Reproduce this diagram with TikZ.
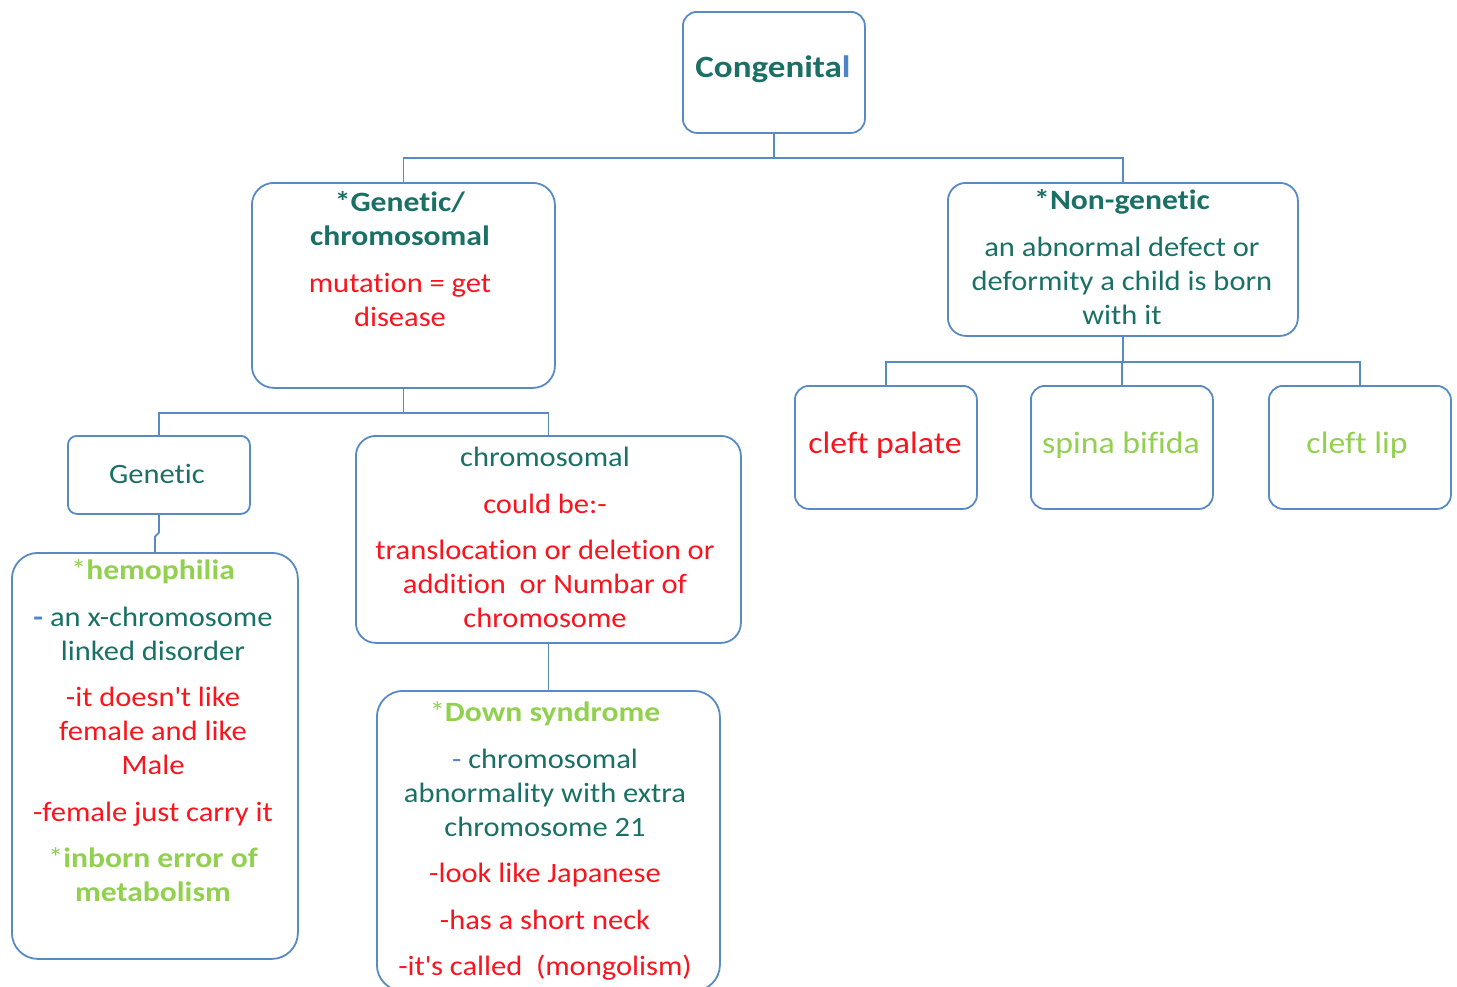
\documentclass[tikz,border=0pt]{standalone}
\usepackage{fontspec}
\setmainfont{Carlito}[Ligatures={TeX,NoCommon}, FakeStretch=1.09,
  BoldFeatures={FakeStretch=1.13}]
\definecolor{boxblue}{RGB}{88,138,196}
\definecolor{tealtxt}{RGB}{26,112,100}
\definecolor{redtxt}{RGB}{250,20,30}
\definecolor{grntxt}{RGB}{146,208,80}
\definecolor{dashblue}{RGB}{80,132,200}
\newcommand{\redt}[1]{{\color{redtxt}#1}}
\newcommand{\grnt}[1]{{\color{grntxt}#1}}
\newcommand{\blut}[1]{{\color{dashblue}#1}}
\newcommand{\apos}{\textquotesingle}
\tikzset{
  box/.style={draw=boxblue, line width=1.8pt, rounded corners=#1, inner sep=0pt, anchor=north west},
  conn/.style={draw=boxblue, line width=1.8pt},
  txt/.style={align=center, inner sep=0pt, anchor=north, text=tealtxt,
              font=\fontsize{28}{34}\selectfont},
  bigtxt/.style={txt, font=\fontsize{31}{34}\selectfont},
}
\begin{document}
\begin{tikzpicture}[x=1pt, y=-1pt]
\useasboundingbox (0,0) rectangle (1457,986);

% boxes
\node[box=14pt, minimum width=182pt, minimum height=121pt] (cong) at (682,11) {};
\node[box=22pt, minimum width=303pt, minimum height=205pt] (gc) at (251,182) {};
\node[box=18pt, minimum width=350pt, minimum height=153pt] (ng) at (947,182) {};
\node[box=9pt, minimum width=182pt, minimum height=78pt] (gen) at (67,435) {};
\node[box=20pt, minimum width=385pt, minimum height=207pt] (chr) at (355,435) {};
\node[box=26pt, minimum width=286pt, minimum height=406pt] (hemo) at (11,552) {};
\node[box=26pt, minimum width=343pt, minimum height=300pt] (down) at (376,690) {};
\node[box=14pt, minimum width=182pt, minimum height=123pt] (cpal) at (794,385) {};
\node[box=14pt, minimum width=182pt, minimum height=123pt] (spina) at (1030,385) {};
\node[box=14pt, minimum width=182pt, minimum height=123pt] (clip) at (1268,385) {};

% connectors
\draw[conn] (cong.south) -- ++(0,24) -| (gc.north);
\draw[conn] (cong.south) -- ++(0,24) -| (ng.north);
\draw[conn] (gc.south) -- ++(0,24) -| (gen.north);
\draw[conn] (gc.south) -- ++(0,24) -| (chr.north);
\draw[conn] (ng.south) -- ++(0,25) -| (cpal.north);
\draw[conn] (ng.south) -- ++(0,25) -| (spina.north);
\draw[conn] (ng.south) -- ++(0,25) -| (clip.north);
\draw[conn] (gen.south) -- ++(0,18) -- ++(-4,4) -- (hemo.north);
\draw[conn] (chr.south) -- (down.north);

% texts
\node[txt, font=\fontsize{31}{38}\selectfont\bfseries] (cong-t) at (773,77-26.6)
  {\strut Congenita\blut{l}};
\node[txt] (gc-t) at (400,211-23.8)
  {\strut\textbf{*Genetic/}\\ \textbf{chromosomal}\\[13pt]
   \redt{mutation = get}\\ \redt{disease}};
\node[txt] (ng-t) at (1122,209-23.8)
  {\strut\textbf{*Non-genetic}\\[13pt] an abnormal defect or\\
   deformity a child is born\\ with it};
\node[txt] (gen-t) at (157,483-23.8) {\strut Genetic};
\node[txt] (chr-t) at (545,466-23.8)
  {\strut chromosomal\\[13pt] \redt{could be:-}\\[12pt]
   \redt{translocation or deletion or}\\ \redt{addition\ \ or Numbar of}\\
   \redt{chromosome}};
\node[txt] (hemo-t) at (153,579-23.8)
  {\strut\grnt{*\textbf{hemophilia}}\\[13pt]
   \blut{\textbf{-}}\ an x-chromosome\\ linked disorder\\[12pt]
   \redt{-it doesn\apos t like}\\ \redt{female and like}\\ \redt{Male}\\[13pt]
   \redt{-female just carry it}\\[12pt]
   \grnt{*\textbf{inborn error of}}\\ \grnt{\textbf{metabolism}}};
\node[txt] (down-t) at (545,721-23.8)
  {\strut\grnt{*\textbf{Down syndrome}}\\[13pt]
   \blut{-} chromosomal\\ abnormality with extra\\ chromosome 21\\[12pt]
   \redt{-look like Japanese}\\[13pt] \redt{-has a short neck}\\[12pt]
   \redt{-it\apos s called\ \ (mongolism)}};
\node[bigtxt, text=redtxt] (cpal-t) at (885,453-23.8) {\strut cleft palate};
\node[bigtxt, text=grntxt] (spina-t) at (1121,453-23.8) {\strut spina bifida};
\node[bigtxt, text=grntxt] (clip-t) at (1357,453-23.8) {\strut cleft lip};
\end{tikzpicture}
\end{document}
